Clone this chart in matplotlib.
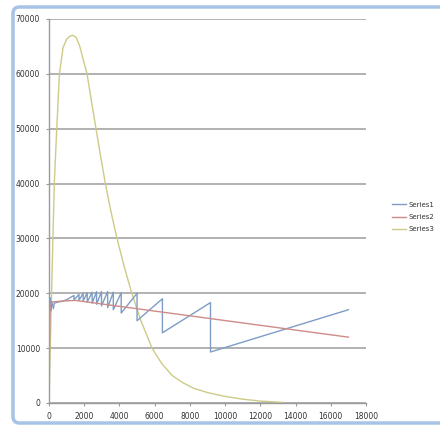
import matplotlib
matplotlib.use("Agg")
import matplotlib.pyplot as plt
from matplotlib.patches import FancyBboxPatch

# Series1: sawtooth readings (x, value)
s1_x = [0, 30, 60, 100, 150, 250, 300, 500, 700, 900, 1100, 1250,
        1420, 1420, 1700, 1700, 1940, 1940, 2170, 2170, 2450, 2450,
        2700, 2700, 2980, 2980, 3330, 3330, 3650, 3650, 4100, 4100,
        5000, 5000, 6440, 6440, 9170, 9170, 17000]
s1_y = [19000, 17500, 19200, 16800, 18500, 17200, 18200, 18400, 18500, 18700, 19000, 19300,
        19600, 18800, 19800, 18700, 20000, 18600, 20100, 18400, 20200, 18200,
        20300, 18000, 20300, 17700, 20300, 17400, 20200, 17000, 20100, 16400,
        20000, 15000, 19000, 12800, 18300, 9300, 17000]

# Series2: slowly falling trend
s2_x = [0, 60, 150, 800, 1500, 17000]
s2_y = [5500, 17500, 18400, 18600, 18700, 12000]

# Series3: single hump
s3_x = [0, 100, 200, 300, 440, 590, 800, 1000, 1200, 1380, 1550, 1750, 1950,
        2160, 2410, 2670, 2930, 3200, 3510, 3860, 4260, 4700, 5220, 5850,
        6400, 7000, 7600, 8200, 9000, 10000, 11000, 12000, 13300]
s3_y = [0, 14000, 27000, 40000, 50000, 60000, 64800, 66300, 66900, 67000, 66600, 65000, 62500,
        60000, 55000, 50000, 45000, 40000, 35000, 30000, 25000, 20000, 15000, 10000,
        7200, 5000, 3700, 2700, 1900, 1200, 700, 350, 100]

x_ticks = [0, 2000, 4000, 6000, 8000, 10000, 12000, 14000, 16000, 18000]
y_ticks = [0, 10000, 20000, 30000, 40000, 50000, 60000, 70000]

fig = plt.figure(figsize=(4.4, 4.3), dpi=100)
fig.patch.set_facecolor("white")

# chart area frame, kept behind the axes
frame = FancyBboxPatch((13 / 440, 7 / 430), 440 / 440, 416 / 430,
                       boxstyle="round,pad=0,rounding_size=0.015",
                       transform=fig.transFigure, facecolor="white",
                       edgecolor="#a9c3e6", linewidth=2.5, zorder=-10)
fig.patches.append(frame)

ax = fig.add_axes([49 / 440, 27 / 430, 317 / 440, 384 / 430])
ax.set_zorder(1)
ax.set_facecolor("none")

ax.plot(s1_x, s1_y, color="#7d9dc4", lw=1.0, label="Series1", zorder=3)
ax.plot(s2_x, s2_y, color="#cf8b88", lw=1.0, label="Series2", zorder=4)
ax.plot(s3_x, s3_y, color="#cdcb88", lw=1.0, label="Series3", zorder=2)

ax.set_xlim(0, 18000)
ax.set_ylim(0, 70000)
ax.set_xticks(x_ticks)
ax.set_yticks(y_ticks)
ax.set_xticklabels([str(v) for v in x_ticks])
ax.set_yticklabels([str(v) for v in y_ticks])
ax.yaxis.grid(True, color="#ababab", lw=1.3)
ax.set_axisbelow(True)

for side in ["top", "right"]:
    ax.spines[side].set_visible(False)
for side in ["left", "bottom"]:
    ax.spines[side].set_color("#9a9a9a")
    ax.spines[side].set_linewidth(1.0)

ax.tick_params(axis="both", labelsize=5.5, colors="#9a9a9a", labelcolor="#333333",
               length=2.5, width=0.8, direction="out", pad=4)

leg = fig.legend(loc="center left", bbox_to_anchor=(386 / 440, 1 - 217 / 430),
                 frameon=False, fontsize=5, handlelength=2.0, handletextpad=0.4,
                 labelspacing=0.9)
leg.set_zorder(2)
for t in leg.get_texts():
    t.set_color("#333333")

fig.savefig("out.png", dpi=100)
